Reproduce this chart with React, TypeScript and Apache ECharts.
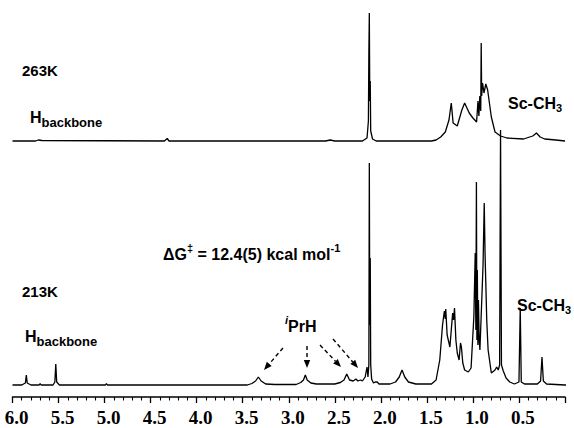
import React, { useEffect, useRef } from "react";
import * as echarts from "echarts";

// 213 K spectrum: [chemical shift (ppm), intensity (a.u.)]
const spectrum213K: [number, number][] = [
  [6.0, 0], [5.9, 0], [5.86, 2], [5.85, 10], [5.84, 2], [5.8, 0],
  [5.71, 0], [5.7, 1.5], [5.69, 0], [5.56, 0], [5.54, 3], [5.53, 21], [5.52, 3], [5.49, 0],
  [4.99, 0], [4.98, 1.5], [4.97, 0], [3.45, 0], [3.4, 1.5], [3.36, 4], [3.33, 8], [3.3, 4],
  [3.25, 1], [3.15, 0.5], [2.92, 0.5], [2.87, 2.5], [2.84, 5], [2.82, 10], [2.8, 5], [2.76, 2],
  [2.7, 1], [2.5, 1], [2.44, 2.5], [2.4, 5], [2.37, 11], [2.34, 5], [2.3, 4], [2.27, 6],
  [2.25, 4], [2.22, 5], [2.2, 4], [2.17, 8], [2.15, 18], [2.14, 8], [2.13, 20], [2.125, 222],
  [2.12, 60], [2.115, 127], [2.11, 20], [2.1, 6], [2.08, 2], [2.06, 3], [2.04, 3], [2.02, 1],
  [1.9, 1], [1.84, 3], [1.8, 8], [1.77, 15], [1.74, 8], [1.7, 3], [1.62, 1], [1.45, 1],
  [1.4, 5], [1.36, 25], [1.33, 60], [1.31, 74], [1.3, 66], [1.295, 76], [1.28, 50], [1.25, 38],
  [1.235, 55], [1.22, 72], [1.21, 65], [1.2, 77], [1.185, 45], [1.17, 32], [1.15, 25],
  [1.135, 42], [1.125, 38], [1.11, 22], [1.09, 15], [1.05, 13], [1.02, 17], [0.99, 68],
  [0.98, 110], [0.975, 132], [0.968, 55], [0.962, 203], [0.957, 45], [0.952, 115], [0.946, 40],
  [0.94, 85], [0.932, 45], [0.924, 35], [0.91, 70], [0.9, 95], [0.89, 120], [0.877, 182],
  [0.868, 130], [0.86, 102], [0.85, 65], [0.835, 35], [0.8, 12], [0.76, 15], [0.742, 18],
  [0.725, 15], [0.71, 20], [0.7, 255], [0.69, 20], [0.67, 14], [0.64, 7], [0.6, 3],
  [0.55, 1], [0.5, 3], [0.486, 77], [0.475, 3], [0.44, 1], [0.3, 1], [0.265, 4], [0.25, 28],
  [0.235, 4], [0.2, 1], [0.0, 0], [-0.08, 0],
];

// 263 K spectrum: [chemical shift (ppm), intensity (a.u.)]
const spectrum263K: [number, number][] = [
  [6.0, 0], [5.75, 0], [5.72, 1], [5.68, 0.5], [4.35, 0], [4.32, 2.5], [4.3, 0],
  [2.6, 0], [2.55, 1], [2.5, 0], [2.2, 0], [2.15, 3], [2.135, 20], [2.13, 88], [2.125, 128],
  [2.12, 40], [2.115, 60], [2.11, 10], [2.09, 2], [2.05, 0], [1.45, 0], [1.4, 1], [1.35, 4],
  [1.3, 9], [1.26, 21], [1.235, 38], [1.215, 18], [1.17, 15], [1.12, 31], [1.09, 38],
  [1.04, 28], [1.0, 23], [0.96, 19], [0.945, 40], [0.935, 25], [0.925, 45], [0.915, 30],
  [0.91, 98], [0.905, 45], [0.895, 58], [0.88, 48], [0.86, 57], [0.84, 51], [0.8, 24],
  [0.76, 9], [0.7, 5], [0.63, 3], [0.45, 2], [0.35, 5], [0.31, 8], [0.27, 4], [0.22, 2],
  [0.1, 1], [0.0, 0],
];

// vertical offset of the 263 K trace above the 213 K trace (a.u.)
const OFFSET_263K = 244;

const X_MIN = 0;
const X_MAX = 6;
const X_INTERVAL = 0.5;

const SANS = "'Liberation Sans', Arial, sans-serif";
const SERIF = "'Liberation Serif', 'Times New Roman', serif";

const hBackboneRich = {
  m: { fontSize: 16, fontWeight: "bold", fontFamily: SANS, lineHeight: 26, fill: "#000" },
  s: { fontSize: 13, fontWeight: "bold", fontFamily: SANS, lineHeight: 16, padding: [10, 0, 0, 0], fill: "#000" },
};
const scRich = {
  m: { fontSize: 16, fontWeight: "bold", fontFamily: SANS, lineHeight: 24, fill: "#000" },
  s: { fontSize: 11, fontWeight: "bold", fontFamily: SANS, lineHeight: 14, padding: [10, 0, 0, 0], fill: "#000" },
};
const supRich = {
  m: { fontSize: 16, fontWeight: "bold", fontFamily: SANS, lineHeight: 26, fill: "#000" },
  p: { fontSize: 11, fontWeight: "bold", fontFamily: SANS, lineHeight: 14, padding: [0, 0, 12, 0], fill: "#000" },
  i: { fontSize: 11, fontWeight: "bold", fontStyle: "italic", fontFamily: SANS, lineHeight: 14, padding: [0, 0, 12, 0], fill: "#000" },
};

function label(x: number, y: number, text: string, rich?: any, size = 15) {
  return {
    type: "text",
    x,
    y,
    silent: true,
    style: {
      text,
      fontSize: size,
      fontWeight: "bold",
      fontFamily: SANS,
      fill: "#000",
      align: "left",
      verticalAlign: rich ? "top" : "middle",
      rich,
    },
  };
}

function arrow(x1: number, y1: number, x2: number, y2: number) {
  const dx = x2 - x1;
  const dy = y2 - y1;
  const len = Math.sqrt(dx * dx + dy * dy);
  const ux = dx / len;
  const uy = dy / len;
  const head = 8;
  const half = 3.2;
  const bx = x2 - ux * head;
  const by = y2 - uy * head;
  return [
    {
      type: "line",
      silent: true,
      shape: { x1, y1, x2: bx, y2: by },
      style: { stroke: "#000", lineWidth: 1.4, lineDash: [4, 3] },
    },
    {
      type: "polygon",
      silent: true,
      shape: {
        points: [
          [x2, y2],
          [bx - uy * half, by + ux * half],
          [bx + uy * half, by - ux * half],
        ],
      },
      style: { fill: "#000" },
    },
  ];
}

export default function App() {
  const ref = useRef<HTMLDivElement>(null);

  useEffect(() => {
    document.body.style.margin = "0";
    document.body.style.background = "#fff";
    if (!ref.current) return;
    const chart = echarts.init(ref.current, undefined, { renderer: "svg" });

    const lineStyle = { color: "#000", width: 1.3 };

    chart.setOption({
      animation: false,
      backgroundColor: "#fff",
      grid: { left: 12.5, right: 9, top: 12, bottom: 31 },
      xAxis: {
        type: "value",
        min: X_MIN,
        max: X_MAX,
        interval: X_INTERVAL,
        inverse: true,
        axisLine: { show: true, onZero: false, lineStyle: { color: "#000", width: 1.5 } },
        axisTick: { show: true, length: 6, lineStyle: { color: "#000", width: 1.3 } },
        minorTick: { show: true, splitNumber: 5, length: 3.5, lineStyle: { color: "#000", width: 1.1 } },
        splitLine: { show: false },
        axisLabel: {
          formatter: (v: number) => (v === 0 ? "" : v.toFixed(1)),
          fontFamily: SERIF,
          fontWeight: "bold",
          fontSize: 19,
          color: "#000",
          margin: 11,
          padding: [0, 0, 0, 8],
          showMinLabel: true,
          showMaxLabel: true,
        },
      },
      yAxis: { type: "value", min: -12, max: 373, show: false },
      series: [
        {
          name: "213K",
          type: "line",
          data: spectrum213K,
          showSymbol: false,
          symbol: "none",
          lineStyle,
          silent: true,
          clip: false,
        },
        {
          name: "263K",
          type: "line",
          data: spectrum263K.map(([x, y]) => [x, y + OFFSET_263K]),
          showSymbol: false,
          symbol: "none",
          lineStyle,
          silent: true,
          clip: false,
        },
      ],
      graphic: [
        label(22, 70, "263K"),
        label(30, 104, "{m|H}{s|backbone}", hBackboneRich),
        label(508, 91, "{m|Sc-CH}{s|3}", scRich),
        label(22, 291, "213K"),
        label(25, 323, "{m|H}{s|backbone}", hBackboneRich),
        label(163, 241, "{m|ΔG}{p|‡}{m| = 12.4(5) kcal mol}{p|-1}", supRich),
        label(285, 313, "{i|i}{m|PrH}", supRich),
        label(517, 293, "{m|Sc-CH}{s|3}", scRich),
        ...arrow(283, 348, 264, 370),
        ...arrow(307, 346, 307, 368),
        ...arrow(320, 345, 341, 367),
        ...arrow(333, 339, 358, 368),
      ],
    });

    return () => chart.dispose();
  }, []);

  return <div ref={ref} style={{ width: 574, height: 428 }} />;
}
